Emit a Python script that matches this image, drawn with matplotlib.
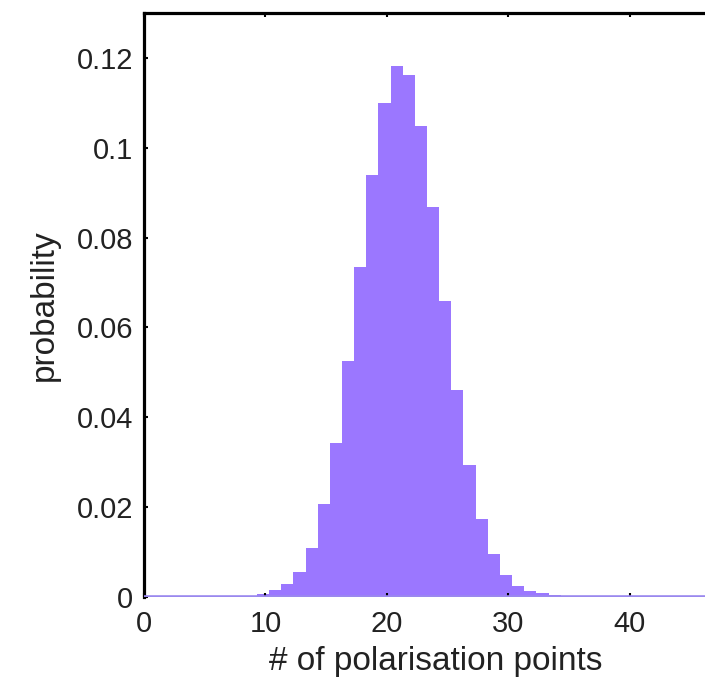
import numpy as np
import matplotlib.pyplot as plt

# histogram: bins of width 1, left edges at k + 0.3
bin_start = [8, 9, 10, 11, 12, 13, 14, 15, 16, 17, 18, 19, 20, 21,
             22, 23, 24, 25, 26, 27, 28, 29, 30, 31, 32, 33, 34]
prob = [0.0003, 0.0007, 0.0015, 0.0028, 0.0056, 0.0110, 0.0206, 0.0342,
        0.0526, 0.0734, 0.0939, 0.1100, 0.1181, 0.1163, 0.1049, 0.0869,
        0.0660, 0.0460, 0.0295, 0.0174, 0.0095, 0.0050, 0.0024, 0.0013,
        0.0008, 0.0004, 0.0002]
bin_offset = 0.3

xticks = [0, 10, 20, 30, 40]
yticks = [0, 0.02, 0.04, 0.06, 0.08, 0.1, 0.12]
ytick_labels = ['0', '0.02', '0.04', '0.06', '0.08', '0.1', '0.12']

plt.rcParams['font.family'] = ['Liberation Sans', 'DejaVu Sans']

purple = '#9b77ff'

fig = plt.figure(figsize=(7.05, 6.81), dpi=100)
ax = fig.add_axes([0.2043, 0.1233, 0.827, 0.8576])

edges = np.array(bin_start) + bin_offset
ax.bar(edges, prob, width=1.0, align='edge', color=purple, linewidth=0)
ax.axhline(0, color='#9a88ee', linewidth=2.6, zorder=3)

ax.set_xlim(0, 48)
ax.set_ylim(0, 0.13)
ax.set_xticks(xticks)
ax.set_yticks(yticks)
ax.set_yticklabels(ytick_labels)

ax.tick_params(direction='in', length=3, width=1.5, labelsize=21,
               labelcolor='#222222', top=True, right=False, pad=8)
ax.tick_params(axis='x', pad=9)

for side in ['left', 'top']:
    ax.spines[side].set_linewidth(2.3)
ax.spines['right'].set_visible(False)
ax.spines['bottom'].set_visible(False)

ax.set_xlabel('# of polarisation points', fontsize=24, color='#222222', labelpad=6)
ax.set_ylabel('probability', fontsize=24, color='#222222', labelpad=12)

fig.savefig('out.png', dpi=100)
